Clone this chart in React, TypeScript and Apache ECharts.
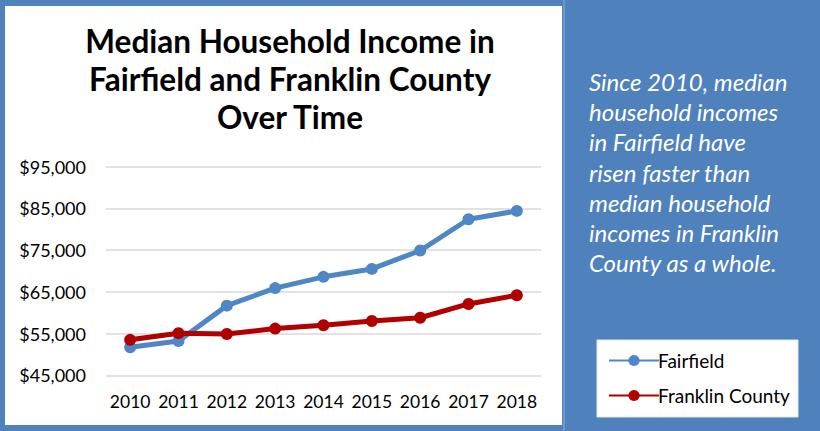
import React, { useEffect, useRef } from "react";
import * as echarts from "echarts";

const years = ["2010", "2011", "2012", "2013", "2014", "2015", "2016", "2017", "2018"];
const fairfield = [51700, 53200, 61700, 65900, 68600, 70500, 74900, 82400, 84400];
const franklin = [53500, 55100, 54900, 56200, 57000, 58000, 58800, 62100, 64200];
const titleLines = ["Median Household Income in", "Fairfield and Franklin County", "Over Time"];
const noteLines = [
  "Since 2010, median",
  "household incomes",
  "in Fairfield have",
  "risen faster than",
  "median household",
  "incomes in Franklin",
  "County as a whole.",
];

const FONT = "Lato, 'Open Sans', sans-serif";
const BLUE_BG = "#4f81bd";
const FAIR = "#4f86c6";
const FRANK = "#b00000";

export default function App() {
  const ref = useRef<HTMLDivElement>(null);
  useEffect(() => {
    document.body.style.margin = "0";
    if (!ref.current) return;
    const chart = echarts.init(ref.current, undefined, { renderer: "svg" });
    const option: any = {
      animation: false,
      backgroundColor: BLUE_BG,
      textStyle: { fontFamily: FONT },
      title: {
        text: titleLines.join("\n"),
        left: 285,
        textAlign: "center",
        top: 17,
        textStyle: {
          fontFamily: FONT,
          fontWeight: "bold",
          fontSize: 31.5,
          lineHeight: 38,
          color: "#000",
        },
      },
      graphic: [
        {
          type: "rect",
          shape: { x: 0, y: 0, width: 820, height: 431 },
          style: { fill: BLUE_BG },
          z: -20,
        },
        {
          type: "rect",
          shape: { x: 5, y: 6, width: 557, height: 419 },
          style: { fill: "#fff" },
          z: -10,
        },
        {
          type: "line",
          shape: { x1: 564, y1: 0, x2: 564, y2: 431 },
          style: { stroke: "#8fb0d8", lineWidth: 1 },
          z: -10,
        },
        {
          type: "rect",
          shape: { x: 597, y: 340, width: 201, height: 77 },
          style: { fill: "#fff", stroke: "#dfe8f3", lineWidth: 1 },
          z: -10,
        },
        {
          type: "text",
          x: 589,
          y: 66,
          style: {
            text: noteLines.join("\n"),
            fill: "#fff",
            font: `italic 24px ${FONT}`,
            lineHeight: 30.3,
          },
        },
      ],
      legend: {
        orient: "vertical",
        left: 603,
        top: 346,
        itemWidth: 50,
        itemHeight: 14,
        itemGap: 16,
        textStyle: { fontFamily: FONT, fontSize: 19, color: "#000", padding: [0, 0, 0, -6] },
        data: ["Fairfield", "Franklin County"],
      },
      grid: { left: 106, right: 279, top: 166.7, bottom: 55.7 },
      xAxis: {
        type: "category",
        data: years,
        boundaryGap: true,
        axisLine: { show: false },
        axisTick: { show: false },
        axisLabel: { color: "#000", fontSize: 17.5, fontFamily: FONT, margin: 17, interval: 0 },
      },
      yAxis: {
        type: "value",
        min: 45000,
        max: 95000,
        interval: 10000,
        axisLine: { show: false },
        axisTick: { show: false },
        splitLine: { lineStyle: { color: "#d9d9d9", width: 1.5 } },
        axisLabel: {
          color: "#000",
          fontSize: 18,
          fontFamily: FONT,
          margin: 20,
          formatter: (v: number) => "$" + v.toLocaleString("en-US"),
        },
      },
      series: [
        {
          name: "Fairfield",
          type: "line",
          data: fairfield,
          symbol: "circle",
          symbolSize: 12,
          lineStyle: { color: FAIR, width: 5 },
          itemStyle: { color: FAIR },
        },
        {
          name: "Franklin County",
          type: "line",
          data: franklin,
          symbol: "circle",
          symbolSize: 12,
          lineStyle: { color: FRANK, width: 5 },
          itemStyle: { color: FRANK },
        },
      ],
    };
    chart.setOption(option);
    return () => chart.dispose();
  }, []);
  return <div ref={ref} style={{ width: 820, height: 431, background: BLUE_BG }} />;
}
